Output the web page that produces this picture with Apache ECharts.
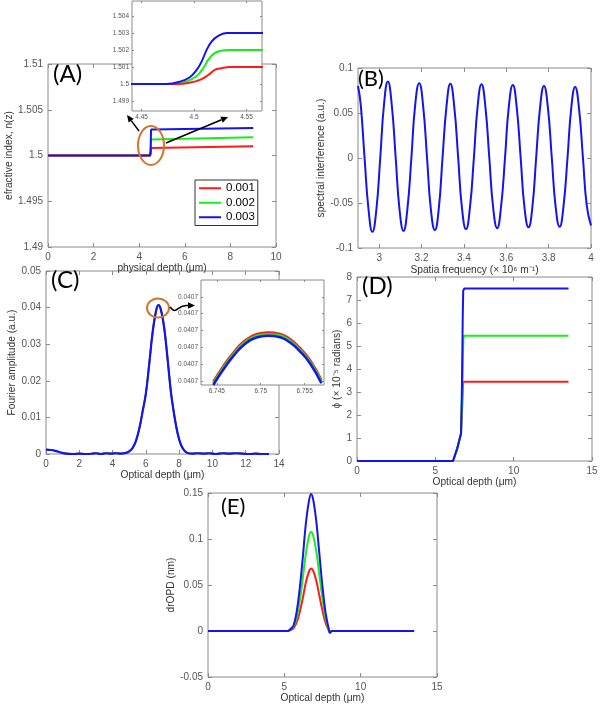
<!DOCTYPE html>
<html><head><meta charset="utf-8">
<script src="https://cdn.jsdelivr.net/npm/echarts@6/dist/echarts.min.js"></script>
<style>html,body{margin:0;padding:0;background:#fff}#c{width:604px;height:708px}</style>
</head><body><div id="c"></div>
<script>
// ---------- Panel A : refractive index step (main + zoomed inset) ----------
const aLegend = ['0.001', '0.002', '0.003'];
const aXTicks = [0, 2, 4, 6, 8, 10];
const aYTicks = [1.49, 1.495, 1.5, 1.505, 1.51];
const aInXTicks = [4.45, 4.5, 4.55];
const aInYTicks = [1.499, 1.5, 1.501, 1.502, 1.503, 1.504];
const aRedX   = [0, 4.485, 4.496, 4.5055, 4.5135, 4.5198, 4.5262, 4.5341, 9];
const aRedY   = [1.5, 1.5, 1.50008, 1.50024, 1.50053, 1.50083, 1.50093, 1.501, 1.501];
const aGreenX = [0, 4.48, 4.4925, 4.5025, 4.5088, 4.5135, 4.5183, 4.5246, 4.5341, 9];
const aGreenY = [1.5, 1.5, 1.50014, 1.50047, 1.50093, 1.50142, 1.50176, 1.50194, 1.502, 1.502];
const aBlueX  = [0, 4.4735, 4.4865, 4.496, 4.5025, 4.5072, 4.512, 4.5167, 4.523, 4.531, 4.5437, 9];
const aBlueY  = [1.5, 1.5, 1.50014, 1.5004, 1.50083, 1.50132, 1.50201, 1.5025, 1.50284, 1.503, 1.503, 1.503];

// ---------- Panel B : spectral interference ----------
const bXTicks = [3, 3.2, 3.4, 3.6, 3.8, 4];
const bYTicks = [-0.1, -0.05, 0, 0.05, 0.1];
const bX = [2.900, 2.913, 2.931, 2.950, 2.968, 2.986, 3.005, 3.023, 3.041, 3.059, 3.078, 3.096,
            3.115, 3.133, 3.152, 3.170, 3.189, 3.207, 3.226, 3.244, 3.263, 3.281, 3.299, 3.318,
            3.336, 3.354, 3.373, 3.391, 3.410, 3.428, 3.447, 3.465, 3.483, 3.501, 3.520, 3.538,
            3.557, 3.575, 3.594, 3.612, 3.631, 3.649, 3.668, 3.686, 3.705, 3.723, 3.741, 3.760,
            3.778, 3.796, 3.815, 3.833, 3.852, 3.870, 3.889, 3.907, 3.925, 3.943, 3.962, 3.980, 4.000];
const bY = [0.080, 0.059, 0, -0.058, -0.082, -0.059, 0, 0.060, 0.085, 0.060, 0, -0.057,
            -0.081, -0.057, 0, 0.059, 0.083, 0.059, 0, -0.057, -0.080, -0.057, 0, 0.058,
            0.0825, 0.058, 0, -0.056, -0.079, -0.056, 0, 0.058, 0.082, 0.058, 0, -0.055,
            -0.078, -0.055, 0, 0.057, 0.081, 0.057, 0, -0.055, -0.077, -0.055, 0, 0.057,
            0.080, 0.057, 0, -0.054, -0.0765, -0.054, 0, 0.056, 0.079, 0.056, 0, -0.053, -0.075];

// ---------- Panel C : Fourier amplitude (main + zoomed inset) ----------
const cXTicks = [0, 2, 4, 6, 8, 10, 12, 14];
const cYTicks = [0, 0.01, 0.02, 0.03, 0.04, 0.05];
const cX = [0, 0.3, 0.6, 0.9, 1.2, 1.6, 2.0, 2.4, 2.8, 3.0, 3.3, 3.6, 3.9, 4.2, 4.5, 4.8, 5.0, 5.2, 5.4,
            5.6, 5.8, 6.0, 6.2, 6.4, 6.6, 6.75, 6.9, 7.1, 7.3, 7.5, 7.7, 7.9, 8.1, 8.3, 8.5, 8.8, 9.1,
            9.5, 9.8, 10.2, 10.6, 11.0, 11.4, 11.8, 12.2, 12.6, 13.0, 13.4];
const cY = [0.0012, 0.0011, 0.0008, 0.0004, 0.0001, 0, 0.0001, 0, 0.0001, 0.0002, 0, 0.0002, 0.0001,
            0.0002, 0.0001, 0.0003, 0.0007, 0.0016, 0.0035, 0.0068, 0.0115, 0.0165, 0.0245, 0.0330,
            0.0388, 0.0407, 0.0395, 0.0345, 0.0262, 0.0172, 0.0108, 0.0058, 0.0026, 0.0010, 0.0003,
            0.0001, 0.0002, 0.0001, 0.0002, 0, 0.0002, 0.0001, 0.0002, 0.0001, 0, 0.0001, 0, 0];
const cInXTicks = [6.745, 6.75, 6.755];
const cInYTicks = [0, 1, 2, 3, 4, 5];          // all labelled 0.0407 in the figure
const cInX = [6.7446, 6.7457, 6.7469, 6.7482, 6.7495, 6.7508, 6.7522, 6.7533, 6.7544, 6.7556, 6.7569];
const cInRed   = [-0.04, 0.85, 1.69, 2.40, 2.78, 2.88, 2.80, 2.50, 1.99, 1.25, 0.06];
const cInGreen = [-0.14, 0.75, 1.59, 2.30, 2.68, 2.78, 2.70, 2.40, 1.89, 1.15, -0.04];
const cInBlue  = [-0.24, 0.65, 1.49, 2.20, 2.58, 2.68, 2.60, 2.30, 1.79, 1.05, -0.14];

// ---------- Panel D : phase ----------
const dXTicks = [0, 5, 10, 15];
const dYTicks = [0, 1, 2, 3, 4, 5, 6, 7, 8];
const dRedX   = [0, 6.13, 6.4, 6.64, 6.72, 6.76, 6.8, 13.5];
const dRedY   = [0, 0, 0.55, 1.2, 2.4, 3.3, 3.45, 3.45];
const dGreenX = [0, 6.13, 6.4, 6.64, 6.72, 6.76, 6.79, 6.83, 13.5];
const dGreenY = [0, 0, 0.55, 1.2, 3.0, 4.6, 5.3, 5.45, 5.45];
const dBlueX  = [0, 6.13, 6.4, 6.64, 6.7, 6.75, 6.78, 6.85, 13.5];
const dBlueY  = [0, 0, 0.55, 1.2, 3.3, 6.3, 7.4, 7.5, 7.5];

// ---------- Panel E : drOPD ----------
const eXTicks = [0, 5, 10, 15];
const eYTicks = [-0.05, 0, 0.05, 0.1, 0.15];
const eX     = [0, 5.2, 5.4, 5.6, 5.8, 6.0, 6.2, 6.4, 6.6, 6.75, 6.9, 7.1, 7.3, 7.5, 7.7, 7.9, 8.0, 8.1, 13.5];
const eRed   = [0, 0, 0.001, 0.003, 0.009, 0.020, 0.035, 0.052, 0.064, 0.068, 0.065, 0.054, 0.038, 0.022, 0.009, 0.001, -0.002, 0, 0];
const eGreen = [0, 0, 0.002, 0.005, 0.014, 0.032, 0.056, 0.083, 0.102, 0.108, 0.103, 0.086, 0.060, 0.035, 0.014, 0.002, -0.002, 0, 0];
const eBlue  = [0, 0, 0.002, 0.006, 0.020, 0.045, 0.078, 0.115, 0.140, 0.149, 0.142, 0.118, 0.083, 0.048, 0.020, 0.003, -0.002, 0, 0];

// ---------- build ----------
const RED = '#ff1a1a', GREEN = '#1aee1a', BLUE = '#1414f0';
const FRAME = '#8a8a8a', LBL = '#555', NAMEC = '#333';
const FONT = 'Liberation Sans, Arial, sans-serif';
const NAMEFS = 10.2;
const fmt = v => String(+(+v).toFixed(5));

const grids = [], xAxes = [], yAxes = [];
function addPanel(g, xc, yc, st) {
  const gi = grids.length;
  grids.push(Object.assign({show: true, borderColor: FRAME, borderWidth: 1, backgroundColor: '#fff', z: st.z, containLabel: false}, g));
  const tick = (vals) => ({show: true, inside: true, length: st.tl, lineStyle: {color: FRAME, width: 1}, customValues: vals});
  const common = {gridIndex: gi, type: 'value', z: st.z, splitLine: {show: false}, axisLine: {show: false, onZero: false}};
  const xi = xAxes.length;
  xAxes.push(Object.assign({}, common, {position: 'bottom', min: xc.min, max: xc.max, axisTick: tick(xc.ticks),
    axisLabel: {show: true, customValues: xc.ticks, formatter: xc.fmt || fmt, fontSize: st.fs, color: LBL, fontFamily: FONT, margin: st.m},
    name: xc.name || '', nameLocation: 'middle', nameGap: xc.gap || 0,
    nameTextStyle: {fontSize: NAMEFS, color: NAMEC, fontFamily: FONT}}));
  xAxes.push(Object.assign({}, common, {position: 'top', min: xc.min, max: xc.max, axisTick: tick(xc.ticks), axisLabel: {show: false}}));
  const yi = yAxes.length;
  yAxes.push(Object.assign({}, common, {position: 'left', min: yc.min, max: yc.max, axisTick: tick(yc.ticks),
    axisLabel: {show: true, customValues: yc.ticks, formatter: yc.fmt || fmt, fontSize: st.fs, color: LBL, fontFamily: FONT, margin: st.m},
    name: yc.name || '', nameLocation: 'middle', nameGap: yc.gap || 0,
    nameTextStyle: {fontSize: NAMEFS, color: NAMEC, fontFamily: FONT}}));
  yAxes.push(Object.assign({}, common, {position: 'right', min: yc.min, max: yc.max, axisTick: tick(yc.ticks), axisLabel: {show: false}}));
  return {x: xi, y: yi};
}
const series = [];
function line(name, xs, ys, color, ax, z, smooth, w) {
  series.push({type: 'line', name, data: xs.map((x, i) => [x, ys[i]]), xAxisIndex: ax.x, yAxisIndex: ax.y,
    symbol: 'none', smooth: smooth || false, lineStyle: {color, width: w || 2}, itemStyle: {color}, z, silent: true, animation: false});
}

const MAIN = {z: 1, tl: 4, fs: 10, m: 5};
const INS = {z: 10, tl: 2, fs: 6.5, m: 3};

const pA = addPanel({left: 48, top: 64, width: 228, height: 183},
  {min: 0, max: 10, ticks: aXTicks, name: 'physical depth (μm)', gap: 14},
  {min: 1.49, max: 1.51, ticks: aYTicks, name: 'efractive index, n(z)', gap: 30}, MAIN);
const pAi = addPanel({left: 132, top: 1, width: 130, height: 110},
  {min: 4.4408, max: 4.5648, ticks: aInXTicks},
  {min: 1.49841, max: 1.50489, ticks: aInYTicks}, INS);
const pB = addPanel({left: 358, top: 68, width: 233, height: 180},
  {min: 2.9, max: 4, ticks: bXTicks, name: 'Spatia frequency (× 10⁶ m⁻¹)', gap: 17},
  {min: -0.1, max: 0.1, ticks: bYTicks, name: 'spectral interference (a.u.)', gap: 30}, MAIN);
const pC = addPanel({left: 46, top: 271, width: 233, height: 183},
  {min: 0, max: 14, ticks: cXTicks, name: 'Optical depth (μm)', gap: 13},
  {min: 0, max: 0.05, ticks: cYTicks, name: 'Fourier amplitude (a.u.)', gap: 29}, MAIN);
const pCi = addPanel({left: 201, top: 280, width: 123, height: 105},
  {min: 6.7432, max: 6.7572, ticks: cInXTicks},
  {min: -0.24, max: 6.0, ticks: cInYTicks, fmt: () => '0.0407'}, INS);
const pD = addPanel({left: 357, top: 277, width: 235, height: 184},
  {min: 0, max: 15, ticks: dXTicks, name: 'Optical depth (μm)', gap: 14},
  {min: 0, max: 8, ticks: dYTicks, name: 'ϕ (× 10⁻⁵ radians)', gap: 11}, MAIN);
const pE = addPanel({left: 208, top: 493, width: 229, height: 184},
  {min: 0, max: 15, ticks: eXTicks, name: 'Optical depth (μm)', gap: 13},
  {min: -0.05, max: 0.15, ticks: eYTicks, name: 'drOPD (nm)', gap: 30}, MAIN);

// A main + inset
line(aLegend[1], aGreenX, aGreenY, GREEN, pA, 2, false);
line(aLegend[0], aRedX, aRedY, RED, pA, 2, false);
line(aLegend[2], aBlueX, aBlueY, BLUE, pA, 2, false);
line('Ai-g', aGreenX, aGreenY, GREEN, pAi, 11, 0.4);
line('Ai-r', aRedX, aRedY, RED, pAi, 11, 0.4);
line('Ai-b', aBlueX, aBlueY, BLUE, pAi, 11, 0.4);
// B
line('B', bX, bY, BLUE, pB, 2, 0.5);
// C main + inset
line('C-r', cX, cY, RED, pC, 2, 0.4, 1.6);
line('C-g', cX, cY, GREEN, pC, 2, 0.4, 1.6);
line('C-b', cX, cY, BLUE, pC, 2, 0.4, 2.2);
line('Ci-r', cInX, cInRed, RED, pCi, 11, 0.5, 2.5);
line('Ci-g', cInX, cInGreen, GREEN, pCi, 11, 0.5, 2.5);
line('Ci-b', cInX, cInBlue, BLUE, pCi, 11, 0.5, 2.5);
// D
line('D-r', dRedX, dRedY, RED, pD, 2, false);
line('D-g', dGreenX, dGreenY, GREEN, pD, 2, false);
line('D-b', dBlueX, dBlueY, BLUE, pD, 2, false);
// E
line('E-r', eX, eRed, RED, pE, 2, 0.4);
line('E-g', eX, eGreen, GREEN, pE, 2, 0.4);
line('E-b', eX, eBlue, BLUE, pE, 2, 0.4);

// annotations
const ORANGE = '#d4742f';
function arrow(x1, y1, x2, y2) {
  const a = Math.atan2(y2 - y1, x2 - x1), L = 7, W = 3.2;
  const bx = x2 - L * Math.cos(a), by = y2 - L * Math.sin(a), px = -Math.sin(a), py = Math.cos(a);
  return [
    {type: 'line', shape: {x1, y1, x2: bx, y2: by}, style: {stroke: '#000', lineWidth: 1.5}, z: 50, silent: true},
    {type: 'polygon', shape: {points: [[x2, y2], [bx + px * W, by + py * W], [bx - px * W, by - py * W]]}, style: {fill: '#000'}, z: 50, silent: true}
  ];
}
function panelLabel(t, x, y, size) {
  return {type: 'text', x, y, z: 60, silent: true,
    style: {text: t, font: size + 'px Lato, "Open Sans", sans-serif', fill: '#000', textVerticalAlign: 'top'}};
}
const graphic = [
  {type: 'ellipse', shape: {cx: 151, cy: 145.5, rx: 13, ry: 19.5}, style: {fill: 'none', stroke: ORANGE, lineWidth: 2}, z: 50, silent: true},
  {type: 'ellipse', shape: {cx: 158, cy: 308, rx: 11, ry: 9.5}, style: {fill: 'none', stroke: ORANGE, lineWidth: 2}, z: 50, silent: true},
  ...arrow(139, 131, 127, 115),
  ...arrow(166, 143, 228, 117),
  {type: 'bezierCurve', shape: {x1: 170, y1: 307, cpx1: 177, cpy1: 316, cpx2: 177, cpy2: 304, x2: 188, y2: 305.5}, style: {stroke: '#000', lineWidth: 1.5, fill: 'none'}, z: 50, silent: true},
  {type: 'polygon', shape: {points: [[195, 305.5], [188, 302.3], [188, 308.7]]}, style: {fill: '#000'}, z: 50, silent: true},
  panelLabel('(A)', 53, 62, 24),
  panelLabel('(B)', 358, 68, 22),
  panelLabel('(C)', 51, 268, 24),
  panelLabel('(D)', 362, 274, 24),
  panelLabel('(E)', 221, 496, 22)
];

const option = {
  animation: false,
  backgroundColor: '#fff',
  grid: grids, xAxis: xAxes, yAxis: yAxes, series, graphic,
  legend: {data: aLegend, orient: 'vertical', left: 195, top: 180, icon: 'rect', itemWidth: 22, itemHeight: 2, itemGap: 2,
    padding: [2, 3, 2, 4], borderColor: '#333', borderWidth: 1, backgroundColor: '#fff', selectedMode: false, z: 40,
    textStyle: {fontSize: 11.5, color: '#000', fontFamily: FONT, lineHeight: 12.5}}
};
const chart = echarts.init(document.getElementById('c'), null, {renderer: 'canvas'});
chart.setOption(option);
</script></body></html>
